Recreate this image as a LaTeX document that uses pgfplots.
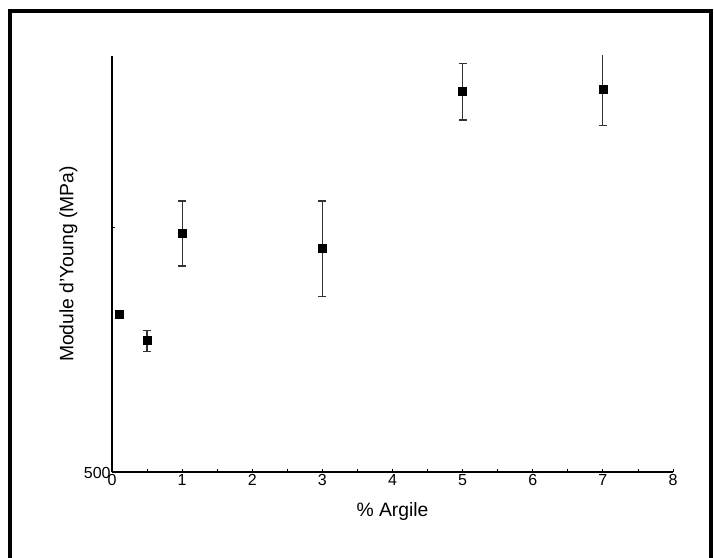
\documentclass[border=0pt]{standalone}
\usepackage{pgfplots}
\pgfplotsset{compat=1.18}
\usepackage{fontspec}
\setmainfont{Liberation Sans}
\pgfplotstableread{
x y eplus eminus
0.1 824 0 0
0.5 769 21 22
1 989 66 67
3 958 97 98
5 1280 57 59
7 1284 75 75
}\datatable
\begin{document}
\begin{tikzpicture}
\path[use as bounding box] (0,0) rectangle (535.5pt,417.75pt);
\draw[line width=3pt] (7.5pt,-20pt) -- (7.5pt,409.5pt) -- (533.25pt,409.5pt) -- (533.25pt,-20pt);
\begin{axis}[
  at={(84pt,63.75pt)}, anchor=south west,
  scale only axis, width=420.75pt, height=312pt,
  axis lines*=left,
  axis line style={line width=0.9pt, -},
  xmin=0, xmax=8, ymin=500, ymax=1352,
  xtick={0,1,...,8},
  minor xtick={0.5,1.5,...,7.5},
  ytick={500,1000}, yticklabels={500,},
  tick align=inside,
  major tick length=2pt, minor tick length=2pt,
  tick style={line width=0.6pt, black},
  /pgf/number format/assume math mode=true,
  tick label style={font=\fontsize{12}{14}\selectfont},
  xticklabel style={yshift=2pt},
  yticklabel style={xshift=2.5pt, yshift=-1pt},
  label style={font=\fontsize{14.5}{17}\selectfont},
  xlabel={\% Argile},
  ylabel={Module d'Young (MPa)},
  xlabel style={yshift=-6pt},
  ylabel style={yshift=-2pt},
]
\addplot[only marks, mark=square*, mark size=3pt, mark options={black},
  error bars/.cd, y dir=both, y explicit,
  error bar style={line width=0.9pt, black!80},
  error mark options={rotate=90, mark size=3pt, line width=0.9pt, black!80}]
  table[x=x, y=y, y error plus=eplus, y error minus=eminus]{\datatable};
\end{axis}
\end{tikzpicture}
\end{document}
